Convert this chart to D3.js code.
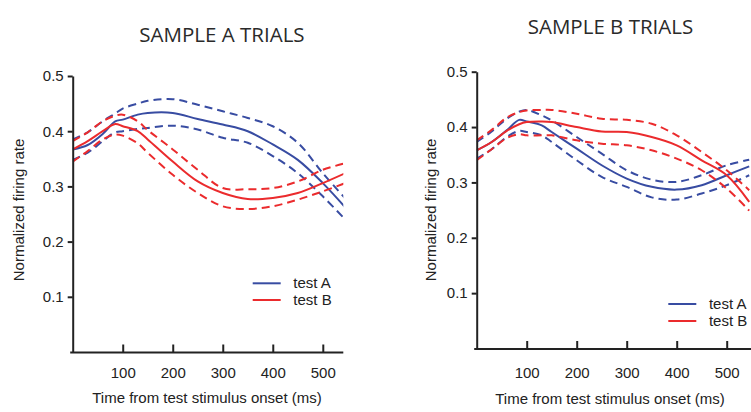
<!DOCTYPE html>
<html>
<head>
<meta charset="utf-8">
<script src="https://cdn.jsdelivr.net/npm/d3@7"></script>
<style>
  html, body { margin: 0; padding: 0; background: #fff; }
  svg { display: block; }
  .tick text { font-family: "Liberation Sans", Arial, sans-serif; font-size: 15px; fill: #222; }
</style>
</head>
<body>
<svg id="chart" width="751" height="412"></svg>
<script>
// ---- data ----
const times = [0, 30, 60, 85, 100, 130, 150, 200, 250, 300, 350, 400, 450, 500, 545];
const xTicks = [100, 200, 300, 400, 500];
const yTicks = [0.1, 0.2, 0.3, 0.4, 0.5];
const panelTitles = ["SAMPLE A TRIALS", "SAMPLE B TRIALS"];
const legendLabels = ["test A", "test B"];
const xLabel = "Time from test stimulus onset (ms)";
const yLabel = "Normalized firing rate";

// Sample A trials
const aTestA      = [0.367,0.375,0.395,0.418,0.421,0.430,0.433,0.433,0.422,0.412,0.400,0.376,0.348,0.306,0.262];
const aTestAUpper = [0.385,0.398,0.418,0.432,0.441,0.450,0.455,0.458,0.448,0.436,0.424,0.409,0.379,0.324,0.278];
const aTestALower = [0.348,0.361,0.382,0.398,0.400,0.404,0.406,0.410,0.403,0.388,0.379,0.355,0.324,0.282,0.240];
const aTestB      = [0.367,0.382,0.400,0.413,0.409,0.400,0.385,0.345,0.309,0.288,0.277,0.279,0.288,0.306,0.324];
const aTestBUpper = [0.382,0.398,0.418,0.428,0.430,0.418,0.402,0.367,0.330,0.297,0.295,0.297,0.309,0.330,0.342];
const aTestBLower = [0.345,0.364,0.385,0.394,0.392,0.378,0.361,0.321,0.288,0.264,0.259,0.264,0.276,0.291,0.306];

// Sample B trials
const bTestA      = [0.358,0.373,0.394,0.413,0.410,0.403,0.391,0.361,0.331,0.307,0.292,0.287,0.295,0.313,0.329];
const bTestAUpper = [0.373,0.392,0.415,0.428,0.431,0.421,0.412,0.382,0.352,0.322,0.305,0.301,0.313,0.331,0.341];
const bTestALower = [0.343,0.360,0.382,0.393,0.391,0.385,0.373,0.340,0.310,0.292,0.273,0.269,0.280,0.295,0.313];
const bTestB      = [0.358,0.373,0.393,0.405,0.409,0.410,0.409,0.400,0.392,0.391,0.382,0.367,0.340,0.313,0.265];
const bTestBUpper = [0.376,0.395,0.417,0.427,0.430,0.431,0.431,0.424,0.415,0.413,0.406,0.385,0.355,0.322,0.286];
const bTestBLower = [0.340,0.360,0.380,0.387,0.385,0.385,0.385,0.376,0.370,0.367,0.358,0.343,0.322,0.289,0.249];

const BLUE = "#384ca2";
const RED = "#eb2b2d";
const AXIS = "#222";
const DASH = "8,5";

const panels = [
  {
    title: panelTitles[0], titleX: 222, titleY: 41.5,
    x0: 72.7, x1: 343.3, xMax: 541, yBottom: 352, yTop: 76,
    yLabelX: 24, xLabelX: 207, xLabelY: 403, tickPad: 14.5,
    legendX: 252.7, legendY: 283.3, legendGap: 16.7,
    series: [
      {vals: aTestA, color: BLUE, dash: null},
      {vals: aTestAUpper, color: BLUE, dash: DASH},
      {vals: aTestALower, color: BLUE, dash: DASH},
      {vals: aTestB, color: RED, dash: null},
      {vals: aTestBUpper, color: RED, dash: DASH},
      {vals: aTestBLower, color: RED, dash: DASH}
    ]
  },
  {
    title: panelTitles[1], titleX: 610.5, titleY: 34,
    x0: 476.7, x1: 751, xMax: 548.6, yBottom: 348.5, yTop: 71.7,
    yLabelX: 436, xLabelX: 610, xLabelY: 404, tickPad: 18,
    legendX: 668.3, legendY: 304, legendGap: 17,
    series: [
      {vals: bTestA, color: BLUE, dash: null},
      {vals: bTestAUpper, color: BLUE, dash: DASH},
      {vals: bTestALower, color: BLUE, dash: DASH},
      {vals: bTestB, color: RED, dash: null},
      {vals: bTestBUpper, color: RED, dash: DASH},
      {vals: bTestBLower, color: RED, dash: DASH}
    ]
  }
];

const svg = d3.select("#chart");
const defs = svg.append("defs");

panels.forEach((p, i) => {
  const x = d3.scaleLinear().domain([0, p.xMax]).range([p.x0, p.x1]);
  const y = d3.scaleLinear().domain([0, 0.5]).range([p.yBottom, p.yTop]);
  const g = svg.append("g");

  defs.append("clipPath").attr("id", "clip" + i)
    .append("rect").attr("x", p.x0).attr("y", p.yTop - 20)
    .attr("width", p.x1 - p.x0).attr("height", p.yBottom - p.yTop + 20);

  // title
  g.append("text").attr("x", p.titleX).attr("y", p.titleY)
    .attr("text-anchor", "middle")
    .style("font-family", "'Open Sans', 'Noto Sans', sans-serif")
    .style("font-size", "20.5px").style("fill", "#2a2a2a")
    .text(p.title);

  // lines
  const line = d3.line()
    .x((d, k) => x(times[k]))
    .y(d => y(d))
    .curve(d3.curveCatmullRom.alpha(0.5));
  const lg = g.append("g").attr("clip-path", `url(#clip${i})`);
  p.series.forEach(s => {
    lg.append("path").datum(s.vals)
      .attr("d", line)
      .attr("fill", "none")
      .attr("stroke", s.color)
      .attr("stroke-width", 2)
      .attr("stroke-dasharray", s.dash);
  });

  // y axis
  const yAxis = d3.axisLeft(y).tickValues(yTicks).tickFormat(d3.format(".1f"))
    .tickSizeInner(5).tickSizeOuter(0).tickPadding(4);
  const yg = g.append("g").attr("transform", `translate(${p.x0},0)`).call(yAxis);
  yg.select(".domain").attr("stroke", AXIS).attr("stroke-width", 2);
  yg.selectAll(".tick line").attr("stroke", AXIS).attr("stroke-width", 2);

  // x axis
  const xAxis = d3.axisBottom(x).tickValues(xTicks).tickFormat(d3.format("d"))
    .tickSizeInner(-8).tickSizeOuter(0).tickPadding(p.tickPad);
  const xg = g.append("g").attr("transform", `translate(0,${p.yBottom + 0.5})`).call(xAxis);
  xg.select(".domain").attr("stroke", AXIS).attr("stroke-width", 2)
    .attr("d", `M${p.x0 - 2.5},0H${p.x1}`);
  xg.selectAll(".tick line").attr("stroke", AXIS).attr("stroke-width", 2);

  // axis labels
  g.append("text").attr("x", p.xLabelX).attr("y", p.xLabelY)
    .attr("text-anchor", "middle")
    .style("font-family", "'Liberation Sans', Arial, sans-serif")
    .style("font-size", "15px").style("fill", "#222")
    .text(xLabel);
  g.append("text")
    .attr("transform", `translate(${p.yLabelX},210) rotate(-90)`)
    .attr("text-anchor", "middle")
    .style("font-family", "'Liberation Sans', Arial, sans-serif")
    .style("font-size", "15px").style("fill", "#222")
    .text(yLabel);

  // legend
  [BLUE, RED].forEach((c, k) => {
    const ly = p.legendY + k * p.legendGap;
    g.append("line").attr("x1", p.legendX).attr("x2", p.legendX + 28)
      .attr("y1", ly).attr("y2", ly)
      .attr("stroke", c).attr("stroke-width", 2);
    g.append("text").attr("x", p.legendX + 40.6).attr("y", ly + 4.8)
      .style("font-family", "'Liberation Sans', Arial, sans-serif")
      .style("font-size", "15px").style("fill", "#222")
      .text(legendLabels[k]);
  });
});
</script>
</body>
</html>
